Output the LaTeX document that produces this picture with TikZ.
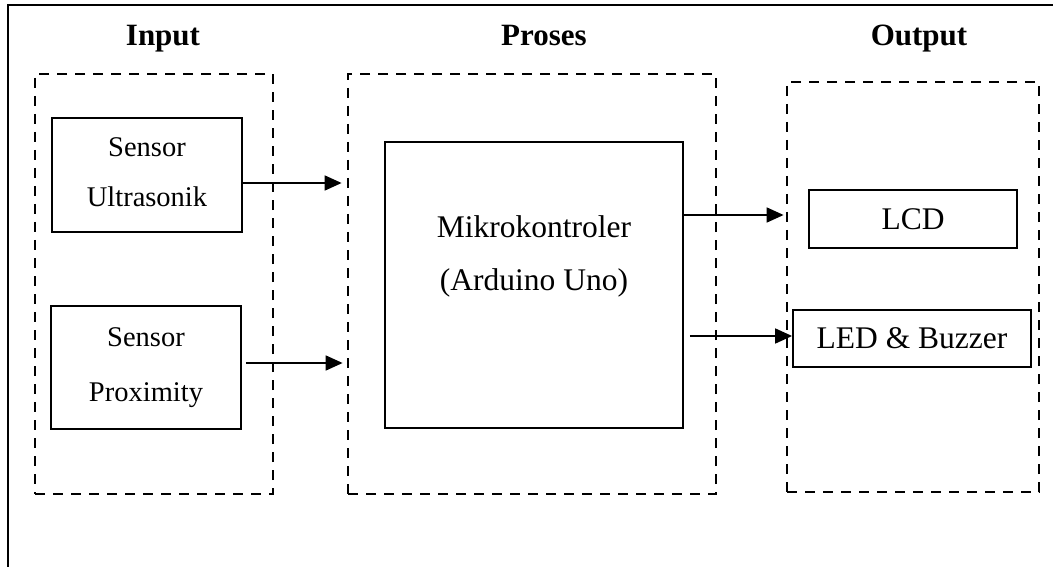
\documentclass[tikz,border=0pt]{standalone}
\usepackage{fontspec}
\setmainfont{Liberation Serif}
\usetikzlibrary{arrows.meta,calc}
\begin{document}
\begin{tikzpicture}[x=1pt,y=1pt,
  blk/.style={draw, line width=1.8pt, inner sep=0pt, align=center},
  grp/.style={draw, line width=2.8pt, dash pattern=on 10pt off 8pt, inner sep=0pt},
  heading/.style={font=\bfseries\fontsize{31}{36}\selectfont, anchor=base},
  insz/.style={font=\fontsize{28.5}{#1}\selectfont},
  outsz/.style={font=\fontsize{31.5}{#1}\selectfont},
  arr/.style={line width=1.8pt, -{Triangle[length=17pt,width=15pt]}}]
\useasboundingbox (0,0) rectangle (1053,-567);

% page frame (top and left edges)
\draw[line width=1.8pt] (1053,-5) -- (8,-5) -- (8,-567);

% column headings
\node[heading] (hin)  at (163,-46) {Input};
\node[heading] (hpro) at (544,-46) {Proses};
\node[heading] (hout) at (919,-46) {Output};

% dashed groups
\node[grp, minimum width=238, minimum height=420] (inp)  at (154,-284) {};
\node[grp, minimum width=368, minimum height=420] (pro)  at (532,-284) {};
\node[grp, minimum width=252, minimum height=410] (outp) at (913,-287) {};

% blocks
\node[blk, insz=50, minimum width=190, minimum height=114] (us) at (147,-175)
  {Sensor\\Ultrasonik\rule[-5.4pt]{0pt}{0pt}};
\node[blk, insz=55, minimum width=190, minimum height=123] (prox) at (146,-367.5)
  {Sensor\\Proximity};
\node[blk, outsz=53, minimum width=298, minimum height=286] (mk) at (534,-285)
  {Mikrokontroler\\(Arduino Uno)\rule[-64pt]{0pt}{0pt}};
\node[blk, outsz=36, minimum width=208, minimum height=58] (lcd) at (913,-219) {LCD};
\node[blk, outsz=36, minimum width=238, minimum height=57] (led) at (912,-338.5) {LED \& Buzzer};

% connectors
\coordinate (a1) at ($(us.east)+(0,-8)$);
\coordinate (a2) at ($(prox.east)+(4,4.5)$);
\coordinate (a3) at ($(mk.east)+(0,70)$);
\coordinate (a4) at ($(mk.east)+(6,-51)$);
\draw[arr, shorten >=5pt] (a1) -- (a1 -| pro.west);
\draw[arr, shorten >=4pt] (a2) -- (a2 -| pro.west);
\draw[arr, shorten >=2pt] (a3) -- (a3 -| outp.west);
\draw[arr] (a4) -- (a4 -| led.west);
\end{tikzpicture}
\end{document}
